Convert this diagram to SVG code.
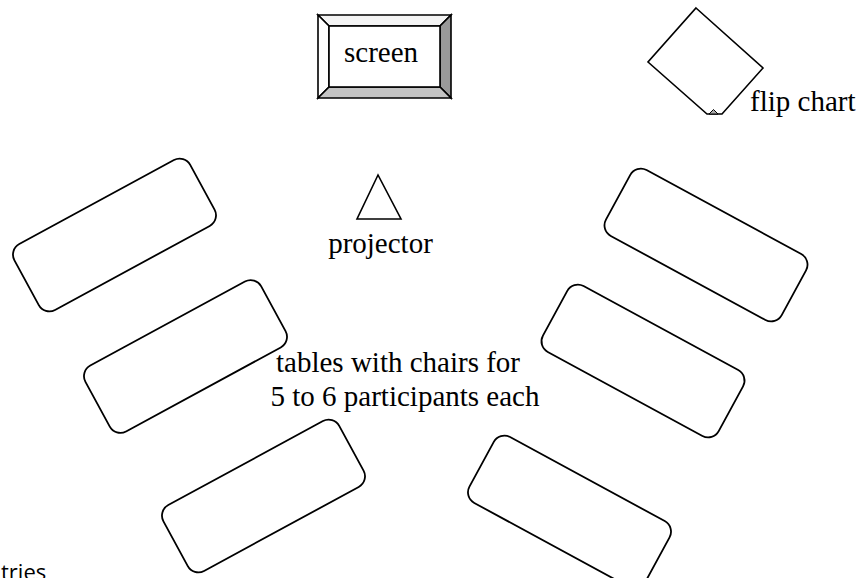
<svg xmlns="http://www.w3.org/2000/svg" width="862" height="578" viewBox="0 0 862 578">
<style>
.lbl{font-family:"Liberation Serif","Times New Roman",serif;font-size:29px;fill:#000}
.tbl{fill:#fff;stroke:#000;stroke-width:1.8}
.ln{stroke:#000;stroke-width:1.6;stroke-linejoin:miter}
</style>
<defs>
<rect id="table" x="-100" y="-37.5" width="200" height="75" rx="12" ry="12" class="tbl"/>
</defs>
<rect width="862" height="578" fill="#fff"/>
<g id="screen">
<polygon points="318,15 451,15 440,26 329,26" fill="#f4f4f4" class="ln"/>
<polygon points="318,15 329,26 329,87 318,98" fill="#ffffff" class="ln"/>
<polygon points="451,15 451,98 440,87 440,26" fill="#999999" class="ln"/>
<polygon points="318,98 329,87 440,87 451,98" fill="#c4c4c4" class="ln"/>
<rect x="329" y="26" width="111" height="61" fill="#fff" class="ln"/>
<text x="381" y="62" text-anchor="middle" class="lbl">screen</text>
</g>
<g id="flipchart">
<polygon points="696,8 763,68 722,114 707,114 648,62" fill="#fff" class="ln"/>
<polygon points="709,114 713.5,109.5 718,114" fill="#aaaaaa" stroke="#000" stroke-width="1"/>
<text x="750" y="111" class="lbl">flip chart</text>
</g>
<g id="projector">
<polygon points="378,175 357,219 401,219" fill="#fff" class="ln"/>
<text x="380.5" y="253" text-anchor="middle" class="lbl">projector</text>
</g>
<g id="table1"><use href="#table" transform="translate(114.5,235) rotate(-28.5)"/></g>
<g id="table2"><use href="#table" transform="translate(185.5,356.5) rotate(-28.5)"/></g>
<g id="table3"><use href="#table" transform="translate(263.5,496) rotate(-28.5)"/></g>
<g id="table4"><use href="#table" transform="translate(706,245) rotate(28.5)"/></g>
<g id="table5"><use href="#table" transform="translate(643,361) rotate(28.5)"/></g>
<g id="table6"><use href="#table" transform="translate(569.5,512) rotate(28.5)"/></g>
<g id="caption">
<text x="398" y="372" text-anchor="middle" class="lbl">tables with chairs for</text>
<text x="405" y="406" text-anchor="middle" class="lbl">5 to 6 participants each</text>
</g>
<g id="connectors"></g>
<text x="1" y="580" style="font-family:'Open Sans','Noto Sans',sans-serif;font-size:22px;fill:#000">tries</text>
</svg>
